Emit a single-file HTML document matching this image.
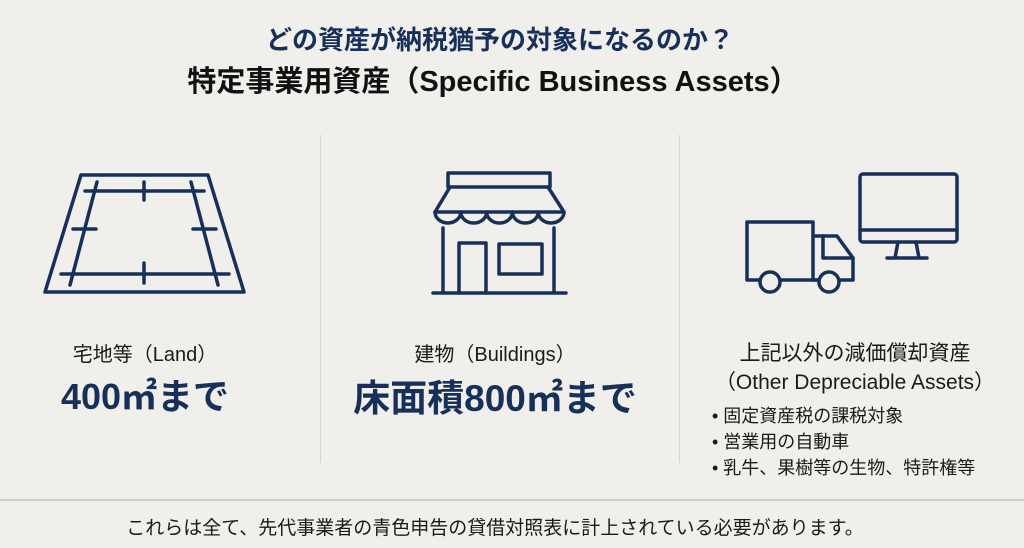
<!DOCTYPE html>
<html><head><meta charset="utf-8"><style>
html,body{margin:0;padding:0}
body{width:1024px;height:548px;background:#f0efeb;position:relative;overflow:hidden;font-family:"Liberation Sans","Noto Sans CJK JP",sans-serif;color:#1a1a1a}
.t{position:absolute;white-space:nowrap;text-align:center}
.navy{color:#17305a}
</style></head><body>
<div class="t navy" style="left:0;width:1000px;top:20px;font-size:26px;font-weight:bold">どの資産が納税猶予の対象になるのか？</div>
<div class="t" style="left:0;width:986px;top:58px;font-size:29px;font-weight:bold;color:#111">特定事業用資産（Specific Business Assets）</div>

<div style="position:absolute;left:320px;top:135px;width:1px;height:328px;background:#d6d4cf"></div>
<div style="position:absolute;left:679px;top:135px;width:1px;height:328px;background:#d6d4cf"></div>
<div style="position:absolute;left:0;top:499px;width:1024px;height:2px;background:#d0cec9"></div>

<svg width="1024" height="548" style="position:absolute;left:0;top:0" fill="none" stroke="#17305a" stroke-width="3.5" stroke-linecap="round" stroke-linejoin="round">
<path d="M81 175 L208 175 L244 292 L45 292 Z"/>
<path d="M85 191 L204 191 M61 274 L229 274 M97 182 L70 285 M191 182 L218 285 M144 182 L144 200 M144 263 L144 283 M73 229 L96 229 M193 229 L216 229"/>
<rect x="448" y="173" width="102" height="14"/>
<path d="M450 187 L435 212 L564 212 L548 187"/>
<path d="M435 212 a12.9 11 0 0 0 25.8 0 a12.9 11 0 0 0 25.8 0 a12.9 11 0 0 0 25.8 0 a12.9 11 0 0 0 25.8 0 a12.9 11 0 0 0 25.8 0"/>
<path d="M443 228 L443 293 M554 228 L554 293 M433 293 L566 293"/>
<path d="M459 293 L459 243 L486 243 L486 293"/>
<rect x="499" y="244" width="43" height="30"/>
<path d="M760 280 L747 280 L747 222 L813 222 L813 280 L819 280"/>
<path d="M813 236 L837 236 L853 258 L853 280 L839 280"/>
<path d="M823 236 L823 258 L853 258"/>
<path d="M780 280 L819 280"/>
<circle cx="770" cy="282" r="10"/>
<circle cx="829" cy="282" r="10"/>
<rect x="860" y="174" width="97" height="68" rx="3"/>
<path d="M860 230 L957 230 M898 242 L895 258 M916 242 L919 258 M887 258 L927 258"/>
</svg>

<div class="t" style="left:45px;width:200px;top:338px;font-size:20px">宅地等（Land）</div>
<div class="t navy" style="left:45px;width:200px;top:368px;font-size:36px;font-weight:bold">400㎡まで</div>
<div class="t" style="left:395px;width:200px;top:338px;font-size:20px">建物（Buildings）</div>
<div class="t navy" style="left:345px;width:300px;top:368px;font-size:37px;font-weight:bold">床面積800㎡まで</div>
<div class="t" style="left:705px;width:300px;top:337px;font-size:21px">上記以外の減価償却資産</div>
<div class="t" style="left:705px;width:300px;top:366px;font-size:21px">（Other Depreciable Assets）</div>
<div style="position:absolute;left:712px;top:403px;font-size:18px;line-height:26px;white-space:nowrap">
• 固定資産税の課税対象<br>• 営業用の自動車<br>• 乳牛、果樹等の生物、特許権等</div>
<div class="t" style="left:0;width:990px;top:513px;font-size:19px">これらは全て、先代事業者の青色申告の貸借対照表に計上されている必要があります。</div>
</body></html>
